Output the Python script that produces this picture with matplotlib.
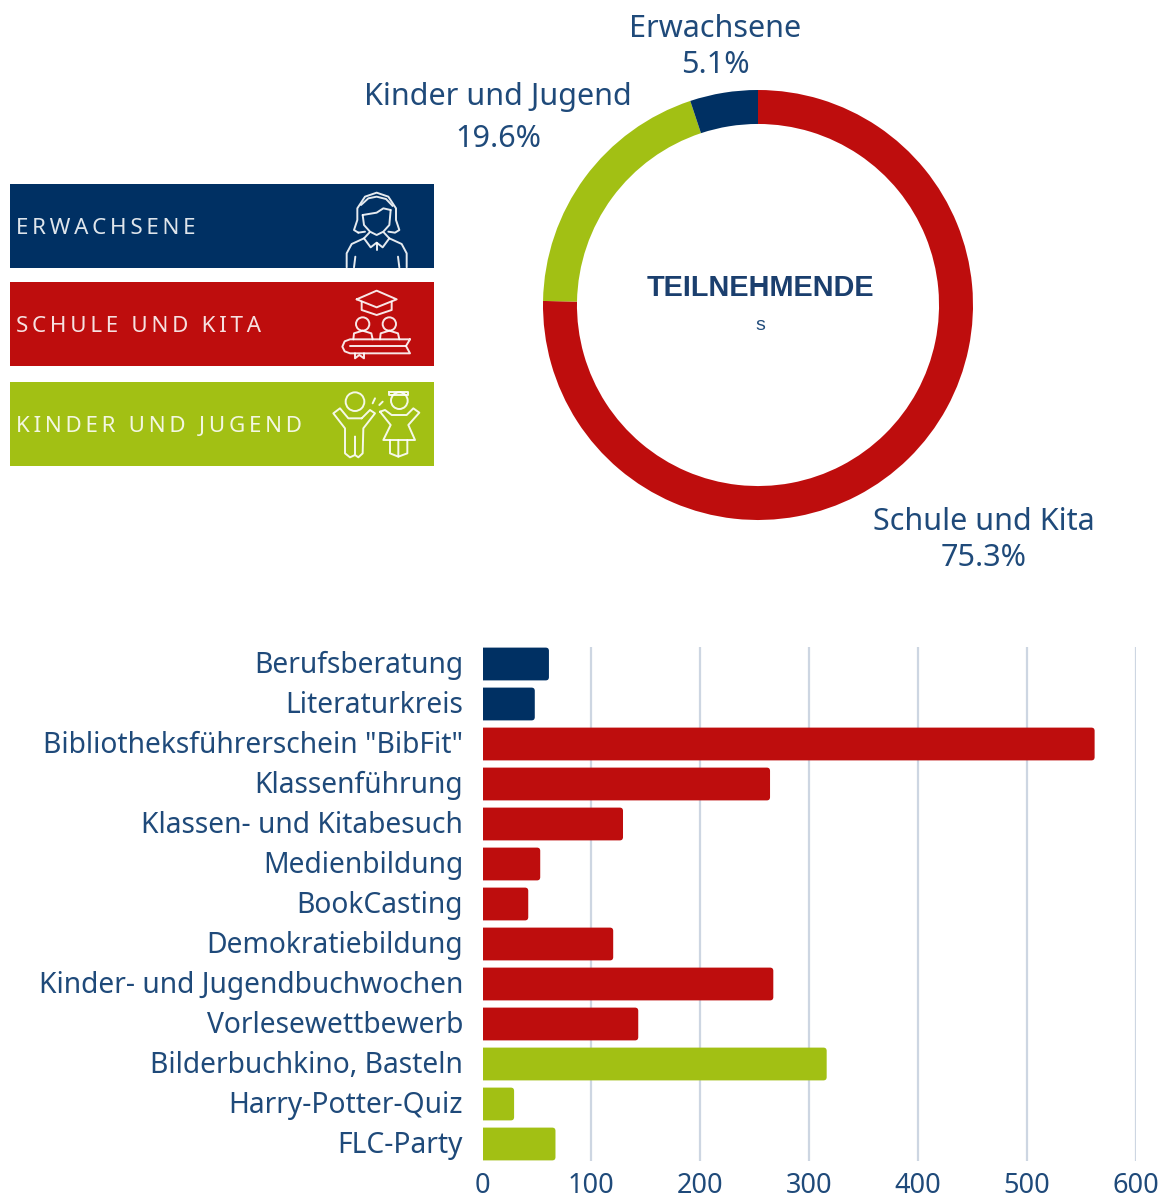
"""
Teilnehmende chart: banners with icons, donut of the shares, bars per event type.
"""

import matplotlib
matplotlib.use("Agg")
import matplotlib.pyplot as plt
from matplotlib.patches import Circle, FancyBboxPatch, Rectangle
from matplotlib.transforms import ScaledTranslation

NAVY = "#003063"
RED = "#BE0D0D"
GREEN = "#A2C014"
TEXT = "#1F4A7A"
GRID = "#CDD6E2"

# Donut data, clockwise from the top
share_names = ["Schule und Kita", "Kinder und Jugend", "Erwachsene"]
share_values = [75.3, 19.6, 5.1]
share_colors = [RED, GREEN, NAVY]

# Bar data
bar_names = ["Berufsberatung", "Literaturkreis", 'Bibliotheksführerschein "BibFit"',
             "Klassenführung", "Klassen- und Kitabesuch", "Medienbildung", "BookCasting",
             "Demokratiebildung", "Kinder- und Jugendbuchwochen", "Vorlesewettbewerb",
             "Bilderbuchkino, Basteln", "Harry-Potter-Quiz", "FLC-Party"]
bar_values = [61, 48, 562, 264, 129, 53, 42, 120, 267, 143, 316, 29, 67]
bar_colors = [NAVY] * 2 + [RED] * 8 + [GREEN] * 3
x_ticks = [0, 100, 200, 300, 400, 500, 600]

banner_names = ["ERWACHSENE", "SCHULE UND KITA", "KINDER UND JUGEND"]
banner_colors = [NAVY, RED, GREEN]

W, H = 1165, 1201
plt.rcParams["font.family"] = ["Noto Sans", "DejaVu Sans"]
fig = plt.figure(figsize=(W / 100, H / 100), dpi=100)


def axes_px(left, top, right, bottom):
    return fig.add_axes([left / W, 1 - bottom / H, (right - left) / W, (bottom - top) / H])


# Overlay in pixel coordinates for the banners, icons and free labels
over = axes_px(0, 0, W, H)
over.set_xlim(0, W)
over.set_ylim(H, 0)
over.axis("off")

for name, color, top in zip(banner_names, banner_colors, [184, 282, 382]):
    over.add_patch(Rectangle((10, top), 424, 84, color=color, lw=0))
    # letter spacing with thin spaces
    over.text(16, top + 44, "\u2009".join(name), color="white", alpha=0.88, fontsize=16.1,
              va="center", ha="left")


def zx(x):
    return x / 3


def zy(y):
    return 170 + y / 3


def icon_line(pts):
    over.plot([zx(p[0]) for p in pts], [zy(p[1]) for p in pts], color="white", lw=1.4,
              solid_joinstyle="round", solid_capstyle="round", alpha=0.9)


def icon_circle(x, y, r):
    over.add_patch(Circle((zx(x), zy(y)), r / 3, fill=False, ec="white", lw=1.4, alpha=0.9))


# Woman
icon_line([(1075, 188), (1062, 180), (1072, 150), (1072, 115), (1095, 80), (1130, 68), (1165, 80),
           (1188, 115), (1188, 150), (1198, 180), (1185, 188), (1165, 185)])
icon_line([(1075, 188), (1095, 185)])
icon_line([(1088, 135), (1092, 165), (1110, 185), (1130, 195), (1150, 185), (1168, 165), (1172, 120)])
icon_line([(1088, 135), (1130, 128), (1150, 115), (1172, 120)])
icon_line([(1083, 105), (1105, 85), (1130, 80), (1158, 87), (1178, 108)])
icon_line([(1108, 188), (1092, 205), (1112, 232), (1130, 218), (1148, 232), (1168, 205), (1152, 188)])
icon_line([(1130, 218), (1130, 240)])
icon_line([(1092, 205), (1055, 222), (1040, 250), (1040, 292)])
icon_line([(1168, 205), (1205, 222), (1220, 250), (1220, 292)])
icon_line([(1062, 292), (1066, 260)])
icon_line([(1198, 292), (1194, 260)])

# Cap, pupils and book
icon_line([(1070, 388), (1130, 362), (1190, 388), (1130, 412), (1070, 388)])
icon_line([(1085, 395), (1085, 420), (1130, 435), (1175, 420), (1175, 395)])
icon_circle(1088, 462, 20)
icon_circle(1168, 462, 20)
icon_line([(1060, 508), (1062, 490), (1088, 482), (1114, 490), (1118, 508)])
icon_line([(1140, 508), (1142, 490), (1168, 482), (1194, 490), (1198, 508)])
icon_line([(1230, 508), (1050, 508), (1034, 514), (1027, 530), (1034, 544), (1050, 550), (1230, 550),
           (1218, 528), (1230, 508)])
icon_line([(1050, 529), (1218, 529)])
icon_line([(1065, 550), (1065, 565), (1078, 555), (1092, 565), (1092, 550)])

# Two children doing a high five
icon_circle(1065, 695, 28)
icon_line([(1085, 745), (1110, 720), (1125, 730), (1090, 775), (1088, 850), (1075, 862), (1065, 855),
           (1065, 800), (1065, 855), (1050, 862), (1035, 850), (1035, 775), (1000, 730), (1020, 715),
           (1045, 745), (1085, 745)])
icon_circle(1198, 692, 25)
icon_line([(1168, 665), (1225, 665), (1225, 675), (1168, 675), (1168, 665)])
icon_line([(1140, 725), (1155, 720), (1175, 735), (1220, 735), (1240, 715), (1258, 728), (1225, 765),
           (1245, 810), (1150, 810), (1172, 765), (1140, 725)])
icon_line([(1170, 810), (1170, 850), (1195, 860), (1195, 810)])
icon_line([(1195, 860), (1222, 850), (1222, 810)])
icon_line([(1118, 700), (1125, 685)])
icon_line([(1138, 705), (1148, 695)])

# Donut
pie_ax = axes_px(758 - 236.5, 305 - 236.5, 758 + 236.5, 305 + 236.5)
pie_ax.pie(share_values, colors=share_colors, startangle=90, counterclock=False, radius=1,
           wedgeprops={"width": 0.158, "linewidth": 0})
pie_ax.set_xlim(-1.1, 1.1)
pie_ax.set_ylim(-1.1, 1.1)

label_spots = [(984, 540, 1.25), (498, 118, 1.5), (715, 47, 1.27)]
for name, value, (lx, ly, ls) in zip(share_names, share_values, label_spots):
    over.text(lx, ly, f"{name}\n{value}%", color=TEXT, fontsize=22, ha="center", va="center",
              linespacing=ls)
over.set_zorder(3)
over.patch.set_alpha(0)
over.text(760, 288, "TEILNEHMENDE", color="#1B3F6E", fontsize=20.8, fontweight="bold",
          family="Liberation Sans", ha="center", va="center")
over.text(760, 325, "s", color=TEXT, fontsize=14, family="Liberation Sans", ha="center", va="center")

# Bars
ax = axes_px(482.5, 647, 1136, 1161)
rows = list(range(len(bar_names)))
for row, value, color in zip(rows, bar_values, bar_colors):
    # starts left of zero so that the axes clip squares off the left corners
    ax.add_patch(FancyBboxPatch((-6, row - 0.41), value + 6, 0.82,
                                boxstyle="round,pad=0,rounding_size=3",
                                mutation_aspect=0.0272, fc=color, ec="none", zorder=2))
ax.set_xlim(0, 600)
ax.set_ylim(12.425, -0.425)
ax.set_xticks(x_ticks)
ax.set_yticks(rows)
ax.set_yticklabels(bar_names)
ax.grid(axis="x", color=GRID, lw=1.6, zorder=0)
ax.set_axisbelow(True)
ax.get_xgridlines()[0].set_visible(False)
for spine in ax.spines.values():
    spine.set_visible(False)
ax.patch.set_alpha(0)
ax.tick_params(axis="y", length=0, labelcolor=TEXT, labelsize=20.3, pad=14)
ax.tick_params(axis="x", length=0, labelcolor=TEXT, labelsize=19.5, pad=8)
# the row labels sit 2 px above the bar centres
nudge = ScaledTranslation(0, 2 / 100, fig.dpi_scale_trans)
for lab in ax.get_yticklabels():
    lab.set_transform(lab.get_transform() + nudge)

fig.savefig("out.png", dpi=100)
